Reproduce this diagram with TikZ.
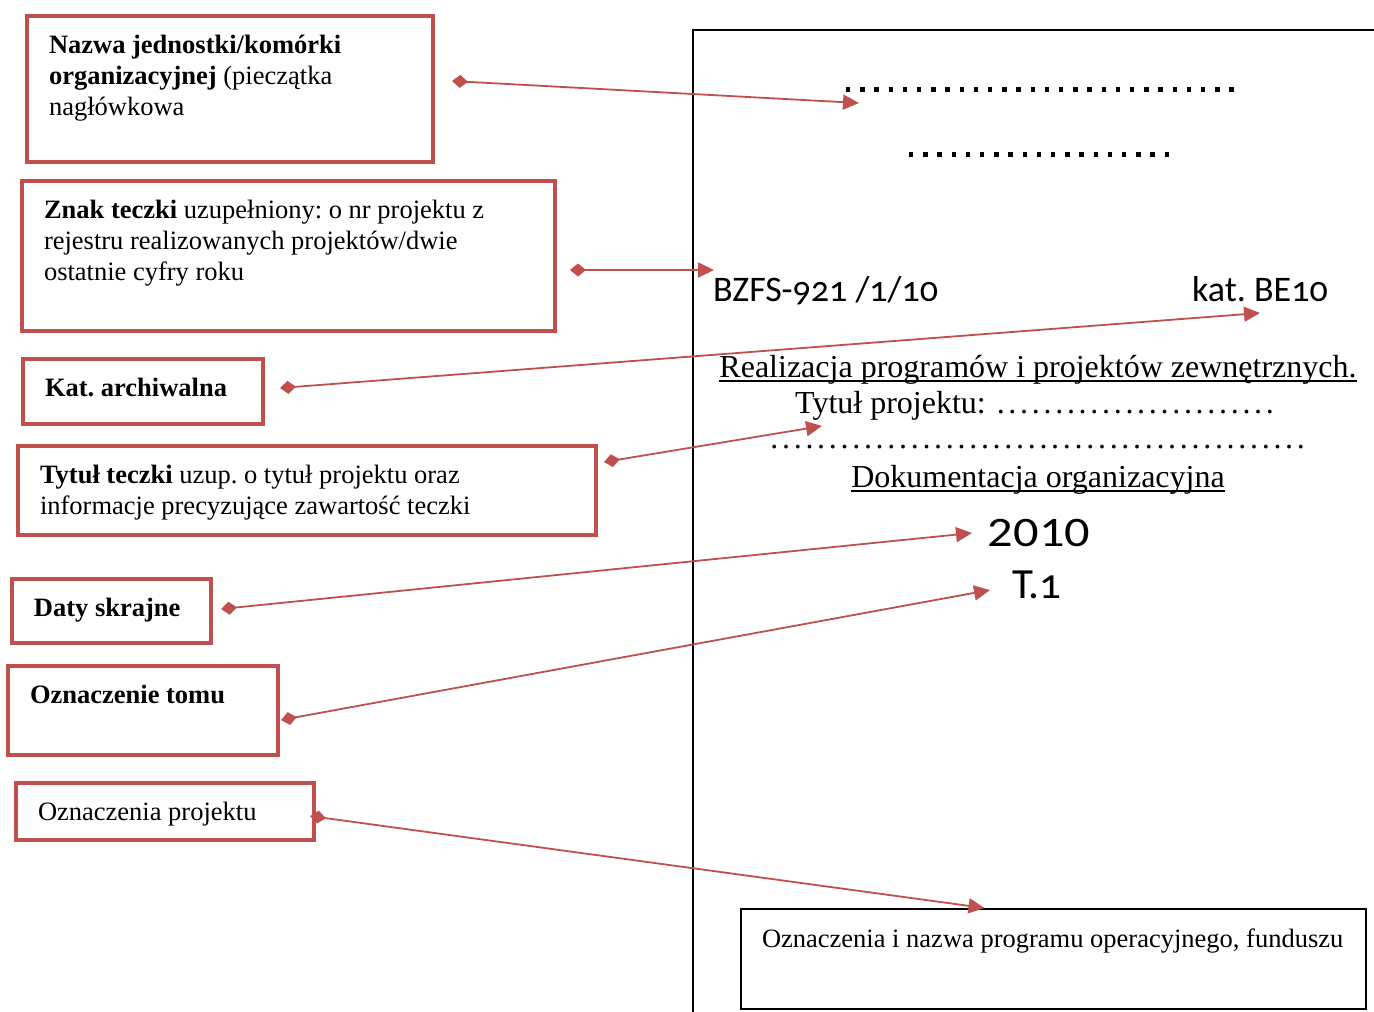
\documentclass[tikz,border=0pt]{standalone}
\usepackage{fontspec}
\usepackage{graphicx}
\setmainfont{Liberation Serif}
\newfontfamily\calib{Carlito}[Numbers=OldStyle]
\newfontfamily\calibl{Carlito}
\usetikzlibrary{arrows.meta, positioning, calc}
\definecolor{accred}{HTML}{C0504D}
\newcommand{\tbox}[3]{\parbox[t][#2pt][t]{#1pt}{\raggedright #3}}
\newcommand{\dfill}{\cleaders\hbox to 11.7pt{\hss.\hss}\hfill}
\frenchspacing

\begin{document}
\begin{tikzpicture}[x=1pt, y=-1pt,
    every node/.style={font=\fontsize{26.5}{31}\selectfont},
    lb/.style={draw=accred, line width=4pt, anchor=north west, inner xsep=22pt, inner ysep=19.5pt},
    pg/.style={draw=black, line width=2pt, anchor=north west, inner xsep=21pt, inner ysep=20pt},
    tx/.style={inner sep=0pt},
    rt/.style={tx, font=\fontsize{32}{36}\selectfont},
    big/.style={tx, font=\calib\fontsize{36}{40}\selectfont},
    a/.style={draw=accred, line width=1.8pt, {Diamond[length=16pt,width=13pt]}-{Triangle[length=16pt,width=15pt]}},
    ul/.style={line width=1.6pt},
    dts/.style={line width=5pt, dash pattern=on 4.4pt off 9.8pt}
]
\useasboundingbox (0,0) rectangle (1374,1012);
\draw[line width=2.5pt] (1374,30) -- (693,30) -- (693,1012);

\node[lb] (nazwa) at (25,14)  {\tbox{362}{107}{\textbf{Nazwa jednostki/komórki}\\ \textbf{organizacyjnej} (pieczątka\\ nagłówkowa}};
\node[lb] (znak)  at (20,179) {\tbox{489}{111}{\textbf{Znak teczki} uzupełniony: o nr projektu z\\ rejestru realizowanych projektów/dwie\\ ostatnie cyfry roku}};
\node[lb] (kat)   at (21,357) {\tbox{196}{26}{\textbf{Kat. archiwalna}}};
\node[lb] (tyt)   at (16,444) {\tbox{534}{50}{\textbf{Tytuł teczki} uzup. o tytuł projektu oraz\\ informacje precyzujące zawartość teczki}};
\node[lb] (daty)  at (10,577) {\tbox{155}{25}{\textbf{Daty skrajne}}};
\node[lb] (tom)   at (6,664)  {\tbox{226}{50}{\textbf{Oznaczenie tomu}}};
\node[lb] (proj)  at (14,781) {\tbox{254}{15}{Oznaczenia projektu}};

\draw[dts] (846,89) -- (1234,89);
\draw[dts] (909,154) -- (1169,154);
\node[big, anchor=base west] (sygn) at (713,301) {BZFS-921 /1/10};
\node[big, anchor=base east] (kbe) at (1328,301) {kat. BE10};
\node[rt, anchor=base] (realiz) at (1038,377) {Realizacja programów i projektów zewnętrznych.};
\node[rt, anchor=base west] (tytpr) at (795,413) {Tytuł projektu: \makebox[283pt][s]{\dfill}};
\node[rt, anchor=base west] (kropki) at (768,448) {\makebox[539pt][s]{\dfill}};
\node[rt, anchor=base] (dok) at (1038,487) {Dokumentacja organizacyjna};
\node[tx, anchor=base, font=\calibl\fontsize{42}{46}\selectfont] (rok) at (1039,546) {\scalebox{1.2}[1]{2010}};
\node[tx, anchor=base west, font=\calib\fontsize{43}{47}\selectfont] (nrtom) at (1012,598) {T.1};
\node[pg] (ozn) at (740,908) {\tbox{583}{60}{\mbox{Oznaczenia i nazwa programu operacyjnego, funduszu}}};
\draw[ul] ([yshift=-4pt]realiz.base west) -- ([yshift=-4pt]realiz.base east);
\draw[ul] ([yshift=-4pt]dok.base west) -- ([yshift=-4pt]dok.base east);

\coordinate (nazwa-d) at (452,81);
\coordinate (znak-d)  at (570,270);
\coordinate (kat-d)   at (280,388);
\coordinate (tyt-d)   at (604,462);
\coordinate (daty-d)  at (221,609);
\coordinate (tom-d)   at (281,720);
\coordinate (proj-d)  at (310,816);
\coordinate (piecz-e) at (859,103);
\coordinate (sygn-e)  at (714,270);
\coordinate (kbe-e)   at (1260,313);
\coordinate (tytpr-e) at (822,426);
\coordinate (rok-e)   at (972,533);
\coordinate (nrtom-e) at (990,590);

\draw[a] (nazwa-d) -- (piecz-e);
\draw[a] (znak-d) -- (sygn-e);
\draw[a] (kat-d) -- (kbe-e);
\draw[a] (tyt-d) -- (tytpr-e);
\draw[a] (daty-d) -- (rok-e);
\draw[a] (tom-d) -- (nrtom-e);
\draw[a] (proj-d) -- ($(ozn.north west)!0.39!(ozn.north east)$);
\end{tikzpicture}
\end{document}
